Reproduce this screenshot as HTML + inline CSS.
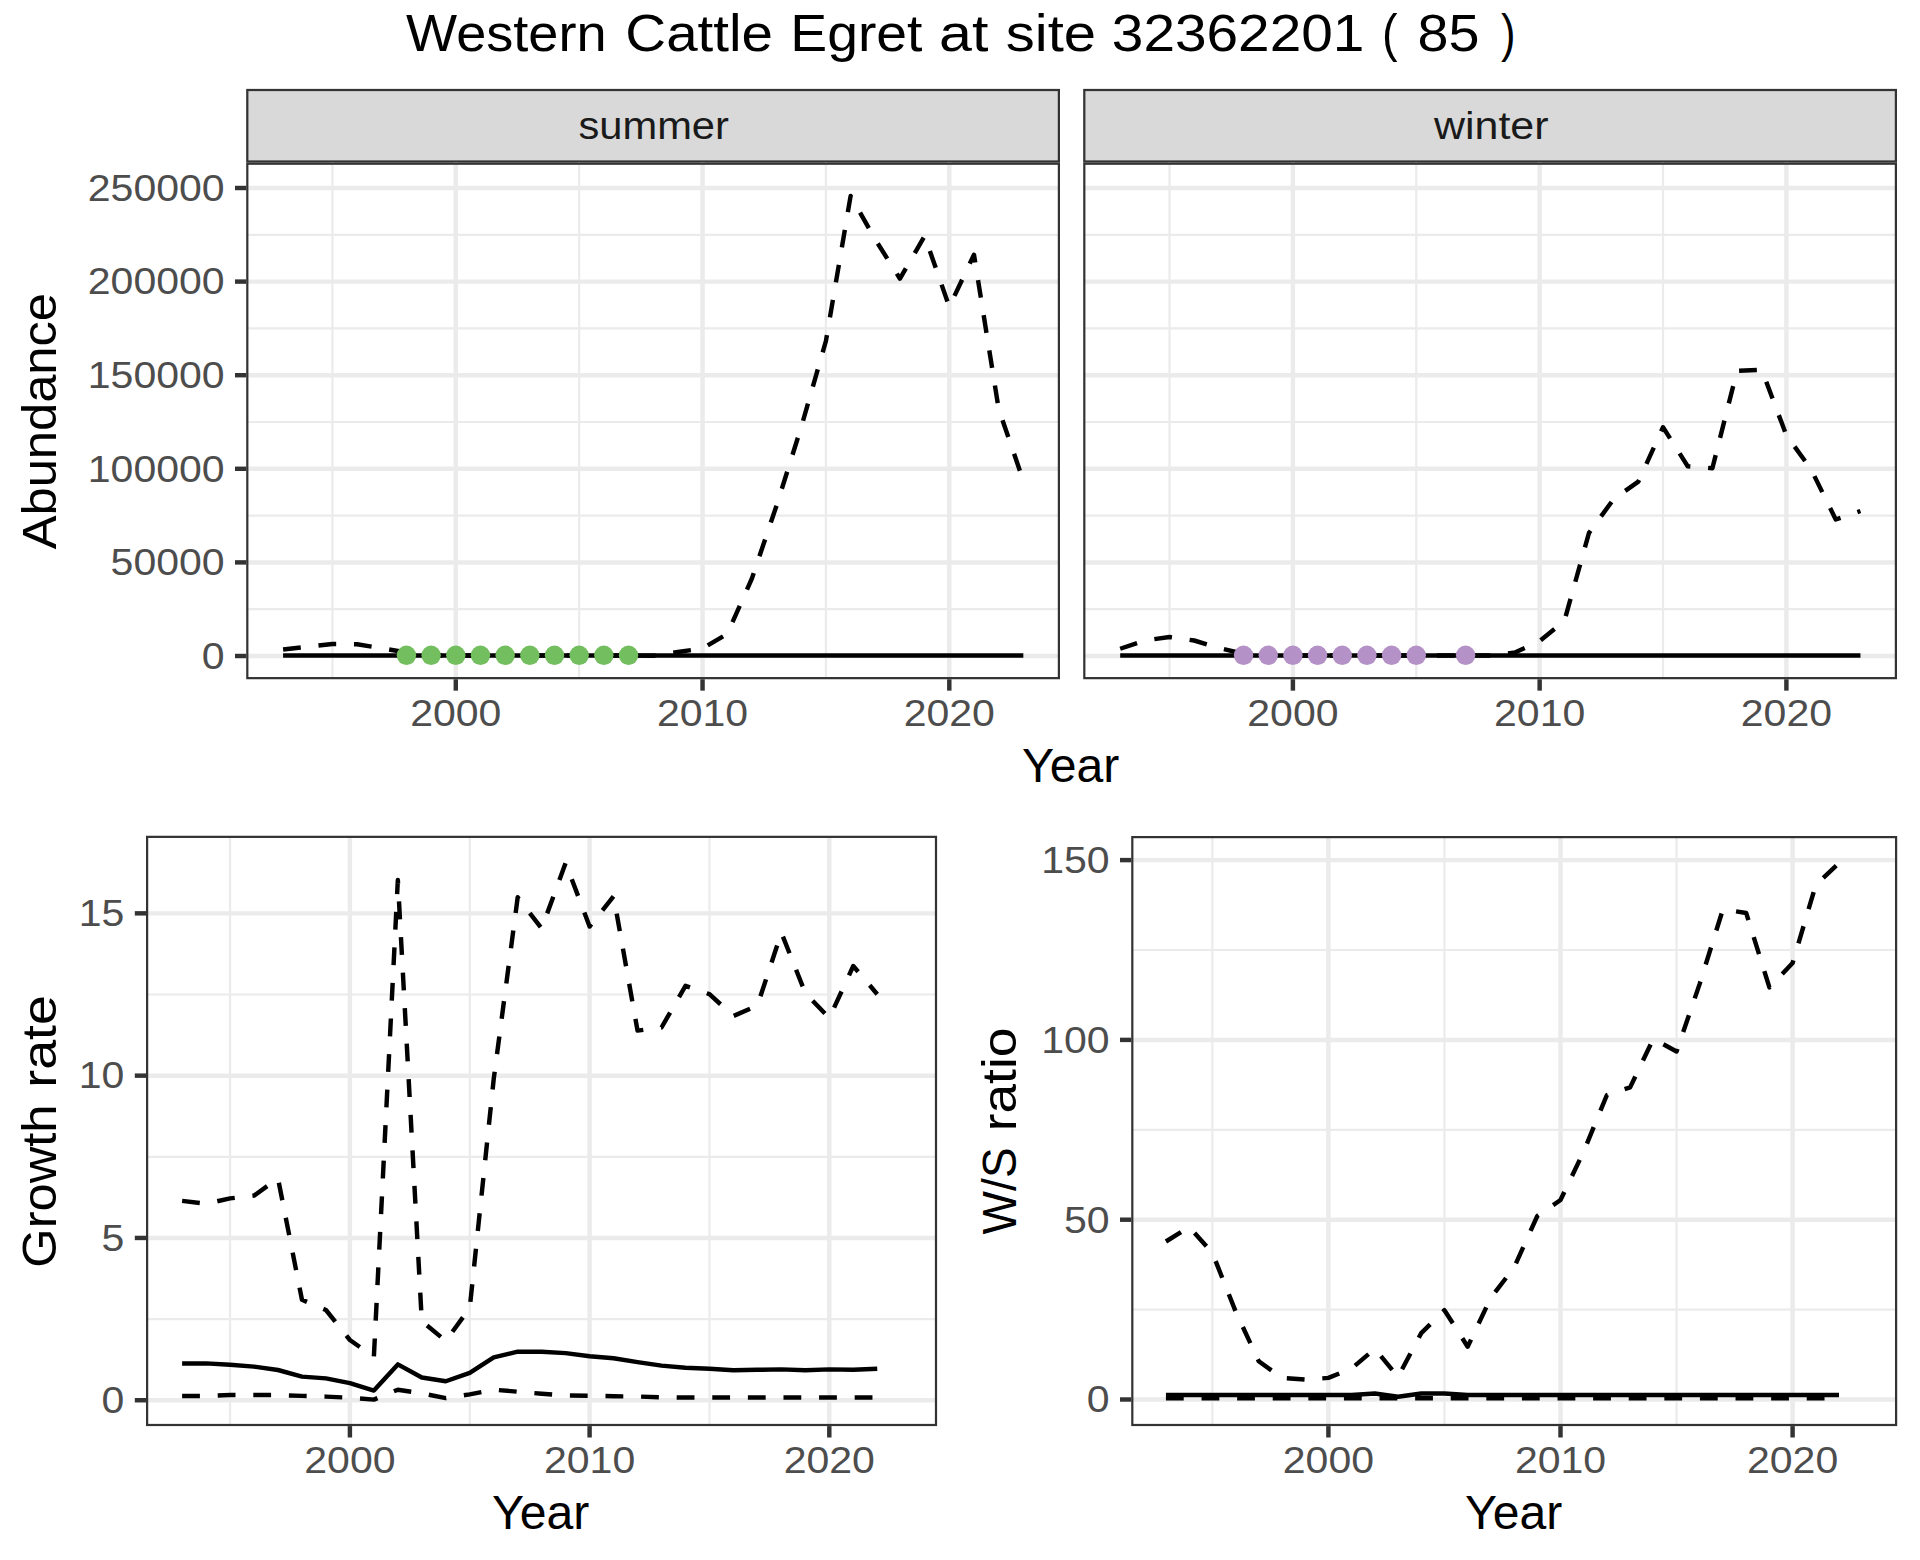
<!DOCTYPE html><html><head><meta charset="utf-8"><style>html,body{margin:0;padding:0;background:#fff;overflow:hidden}svg{display:block}</style></head><body>
<svg width="1920" height="1560" viewBox="0 0 1920 1560" font-family='"Liberation Sans", sans-serif'>
<rect width="1920" height="1560" fill="#fff"/>
<rect x="246.20" y="88.9" width="813.80" height="73.70" fill="#D9D9D9"/>
<rect x="247.31" y="90.01" width="811.58" height="71.48" fill="none" stroke="#333333" stroke-width="2.22"/>
<clipPath id="ctl"><rect x="246.20" y="162.60" width="813.80" height="516.65"/></clipPath>
<g clip-path="url(#ctl)">
<line x1="332.43" y1="162.60" x2="332.43" y2="679.25" stroke="#EBEBEB" stroke-width="2.22"/>
<line x1="579.17" y1="162.60" x2="579.17" y2="679.25" stroke="#EBEBEB" stroke-width="2.22"/>
<line x1="825.92" y1="162.60" x2="825.92" y2="679.25" stroke="#EBEBEB" stroke-width="2.22"/>
<line x1="246.20" y1="609.20" x2="1060.00" y2="609.20" stroke="#EBEBEB" stroke-width="2.22"/>
<line x1="246.20" y1="515.60" x2="1060.00" y2="515.60" stroke="#EBEBEB" stroke-width="2.22"/>
<line x1="246.20" y1="422.00" x2="1060.00" y2="422.00" stroke="#EBEBEB" stroke-width="2.22"/>
<line x1="246.20" y1="328.40" x2="1060.00" y2="328.40" stroke="#EBEBEB" stroke-width="2.22"/>
<line x1="246.20" y1="234.80" x2="1060.00" y2="234.80" stroke="#EBEBEB" stroke-width="2.22"/>
<line x1="455.80" y1="162.60" x2="455.80" y2="679.25" stroke="#EBEBEB" stroke-width="4.45"/>
<line x1="702.55" y1="162.60" x2="702.55" y2="679.25" stroke="#EBEBEB" stroke-width="4.45"/>
<line x1="949.30" y1="162.60" x2="949.30" y2="679.25" stroke="#EBEBEB" stroke-width="4.45"/>
<line x1="246.20" y1="656.00" x2="1060.00" y2="656.00" stroke="#EBEBEB" stroke-width="4.45"/>
<line x1="246.20" y1="562.40" x2="1060.00" y2="562.40" stroke="#EBEBEB" stroke-width="4.45"/>
<line x1="246.20" y1="468.80" x2="1060.00" y2="468.80" stroke="#EBEBEB" stroke-width="4.45"/>
<line x1="246.20" y1="375.20" x2="1060.00" y2="375.20" stroke="#EBEBEB" stroke-width="4.45"/>
<line x1="246.20" y1="281.60" x2="1060.00" y2="281.60" stroke="#EBEBEB" stroke-width="4.45"/>
<line x1="246.20" y1="188.00" x2="1060.00" y2="188.00" stroke="#EBEBEB" stroke-width="4.45"/>
<path d="M283.08 655.50 L307.75 655.50 L332.43 655.50 L357.10 655.50 L381.77 655.50 L406.45 655.50 L431.12 655.50 L455.80 655.50 L480.48 655.50 L505.15 655.50 L529.83 655.50 L554.50 655.50 L579.17 655.50 L603.85 655.50 L628.52 655.50 L653.20 655.50 L677.88 655.50 L702.55 655.50 L727.23 655.50 L751.90 655.50 L776.58 655.50 L801.25 655.50 L825.92 655.50 L850.60 655.50 L875.28 655.50 L899.95 655.50 L924.62 655.50 L949.30 655.50 L973.98 655.50 L998.65 655.50 L1023.33 655.50" fill="none" stroke="#000" stroke-width="4.45" stroke-linejoin="round"/>
<path d="M283.08 649.50 L307.75 646.75 L332.43 644.00 L357.10 644.25 L381.77 648.25 L406.45 652.50 L431.12 655.50 L455.80 655.50 L480.48 655.50 L505.15 655.50 L529.83 655.50 L554.50 655.50 L579.17 655.50 L603.85 655.50 L628.52 655.50 L653.20 655.80 L677.88 652.00 L702.55 648.50 L727.23 634.00 L751.90 578.50 L776.58 505.50 L801.25 427.00 L825.92 341.00 L850.60 196.00 L875.28 239.50 L899.95 278.70 L924.62 236.00 L949.30 306.80 L973.98 254.70 L998.65 408.90 L1023.33 480.75" fill="none" stroke="#000" stroke-width="4.45" stroke-dasharray="17.8 17.8" stroke-linejoin="round"/>
<circle cx="406.45" cy="655.3" r="9.7" fill="#73BE5E"/>
<circle cx="431.12" cy="655.3" r="9.7" fill="#73BE5E"/>
<circle cx="455.80" cy="655.3" r="9.7" fill="#73BE5E"/>
<circle cx="480.48" cy="655.3" r="9.7" fill="#73BE5E"/>
<circle cx="505.15" cy="655.3" r="9.7" fill="#73BE5E"/>
<circle cx="529.83" cy="655.3" r="9.7" fill="#73BE5E"/>
<circle cx="554.50" cy="655.3" r="9.7" fill="#73BE5E"/>
<circle cx="579.17" cy="655.3" r="9.7" fill="#73BE5E"/>
<circle cx="603.85" cy="655.3" r="9.7" fill="#73BE5E"/>
<circle cx="628.52" cy="655.3" r="9.7" fill="#73BE5E"/>
</g>
<rect x="247.31" y="163.71" width="811.58" height="514.43" fill="none" stroke="#333333" stroke-width="2.22"/>
<line x1="455.80" y1="679.25" x2="455.80" y2="690.65" stroke="#333333" stroke-width="4.45"/>
<line x1="702.55" y1="679.25" x2="702.55" y2="690.65" stroke="#333333" stroke-width="4.45"/>
<line x1="949.30" y1="679.25" x2="949.30" y2="690.65" stroke="#333333" stroke-width="4.45"/>
<rect x="1083.20" y="88.9" width="813.80" height="73.70" fill="#D9D9D9"/>
<rect x="1084.31" y="90.01" width="811.58" height="71.48" fill="none" stroke="#333333" stroke-width="2.22"/>
<clipPath id="ctr"><rect x="1083.20" y="162.60" width="813.80" height="516.65"/></clipPath>
<g clip-path="url(#ctr)">
<line x1="1169.53" y1="162.60" x2="1169.53" y2="679.25" stroke="#EBEBEB" stroke-width="2.22"/>
<line x1="1416.28" y1="162.60" x2="1416.28" y2="679.25" stroke="#EBEBEB" stroke-width="2.22"/>
<line x1="1663.03" y1="162.60" x2="1663.03" y2="679.25" stroke="#EBEBEB" stroke-width="2.22"/>
<line x1="1083.20" y1="609.20" x2="1897.00" y2="609.20" stroke="#EBEBEB" stroke-width="2.22"/>
<line x1="1083.20" y1="515.60" x2="1897.00" y2="515.60" stroke="#EBEBEB" stroke-width="2.22"/>
<line x1="1083.20" y1="422.00" x2="1897.00" y2="422.00" stroke="#EBEBEB" stroke-width="2.22"/>
<line x1="1083.20" y1="328.40" x2="1897.00" y2="328.40" stroke="#EBEBEB" stroke-width="2.22"/>
<line x1="1083.20" y1="234.80" x2="1897.00" y2="234.80" stroke="#EBEBEB" stroke-width="2.22"/>
<line x1="1292.90" y1="162.60" x2="1292.90" y2="679.25" stroke="#EBEBEB" stroke-width="4.45"/>
<line x1="1539.65" y1="162.60" x2="1539.65" y2="679.25" stroke="#EBEBEB" stroke-width="4.45"/>
<line x1="1786.40" y1="162.60" x2="1786.40" y2="679.25" stroke="#EBEBEB" stroke-width="4.45"/>
<line x1="1083.20" y1="656.00" x2="1897.00" y2="656.00" stroke="#EBEBEB" stroke-width="4.45"/>
<line x1="1083.20" y1="562.40" x2="1897.00" y2="562.40" stroke="#EBEBEB" stroke-width="4.45"/>
<line x1="1083.20" y1="468.80" x2="1897.00" y2="468.80" stroke="#EBEBEB" stroke-width="4.45"/>
<line x1="1083.20" y1="375.20" x2="1897.00" y2="375.20" stroke="#EBEBEB" stroke-width="4.45"/>
<line x1="1083.20" y1="281.60" x2="1897.00" y2="281.60" stroke="#EBEBEB" stroke-width="4.45"/>
<line x1="1083.20" y1="188.00" x2="1897.00" y2="188.00" stroke="#EBEBEB" stroke-width="4.45"/>
<path d="M1120.18 655.50 L1144.85 655.50 L1169.53 655.50 L1194.20 655.50 L1218.88 655.50 L1243.55 655.50 L1268.23 655.50 L1292.90 655.50 L1317.58 655.50 L1342.25 655.50 L1366.93 655.50 L1391.60 655.50 L1416.28 655.50 L1440.95 655.50 L1465.62 655.50 L1490.30 655.50 L1514.98 655.50 L1539.65 655.50 L1564.33 655.50 L1589.00 655.50 L1613.68 655.50 L1638.35 655.50 L1663.03 655.50 L1687.70 655.50 L1712.38 655.50 L1737.05 655.50 L1761.73 655.50 L1786.40 655.50 L1811.08 655.50 L1835.75 655.50 L1860.43 655.50" fill="none" stroke="#000" stroke-width="4.45" stroke-linejoin="round"/>
<path d="M1120.18 648.75 L1144.85 640.50 L1169.53 637.00 L1194.20 640.50 L1218.88 648.00 L1243.55 653.75 L1268.23 655.50 L1292.90 655.50 L1317.58 655.50 L1342.25 655.50 L1366.93 655.50 L1391.60 655.50 L1416.28 655.50 L1440.95 655.50 L1465.62 655.50 L1490.30 655.50 L1514.98 652.50 L1539.65 641.00 L1564.33 621.00 L1589.00 532.90 L1613.68 499.00 L1638.35 481.60 L1663.03 427.20 L1687.70 466.20 L1712.38 468.20 L1737.05 370.80 L1761.73 369.70 L1786.40 435.40 L1811.08 469.30 L1835.75 519.50 L1860.43 511.00" fill="none" stroke="#000" stroke-width="4.45" stroke-dasharray="17.8 17.8" stroke-linejoin="round"/>
<circle cx="1243.55" cy="655.3" r="9.7" fill="#B491C6"/>
<circle cx="1268.23" cy="655.3" r="9.7" fill="#B491C6"/>
<circle cx="1292.90" cy="655.3" r="9.7" fill="#B491C6"/>
<circle cx="1317.58" cy="655.3" r="9.7" fill="#B491C6"/>
<circle cx="1342.25" cy="655.3" r="9.7" fill="#B491C6"/>
<circle cx="1366.93" cy="655.3" r="9.7" fill="#B491C6"/>
<circle cx="1391.60" cy="655.3" r="9.7" fill="#B491C6"/>
<circle cx="1416.28" cy="655.3" r="9.7" fill="#B491C6"/>
<circle cx="1465.62" cy="655.3" r="9.7" fill="#B491C6"/>
</g>
<rect x="1084.31" y="163.71" width="811.58" height="514.43" fill="none" stroke="#333333" stroke-width="2.22"/>
<line x1="1292.90" y1="679.25" x2="1292.90" y2="690.65" stroke="#333333" stroke-width="4.45"/>
<line x1="1539.65" y1="679.25" x2="1539.65" y2="690.65" stroke="#333333" stroke-width="4.45"/>
<line x1="1786.40" y1="679.25" x2="1786.40" y2="690.65" stroke="#333333" stroke-width="4.45"/>
<line x1="235.00" y1="656.00" x2="246.20" y2="656.00" stroke="#333333" stroke-width="4.45"/>
<line x1="235.00" y1="562.40" x2="246.20" y2="562.40" stroke="#333333" stroke-width="4.45"/>
<line x1="235.00" y1="468.80" x2="246.20" y2="468.80" stroke="#333333" stroke-width="4.45"/>
<line x1="235.00" y1="375.20" x2="246.20" y2="375.20" stroke="#333333" stroke-width="4.45"/>
<line x1="235.00" y1="281.60" x2="246.20" y2="281.60" stroke="#333333" stroke-width="4.45"/>
<line x1="235.00" y1="188.00" x2="246.20" y2="188.00" stroke="#333333" stroke-width="4.45"/>
<clipPath id="cbl"><rect x="146.00" y="835.75" width="791.10" height="590.35"/></clipPath>
<g clip-path="url(#cbl)">
<line x1="230.05" y1="835.75" x2="230.05" y2="1426.10" stroke="#EBEBEB" stroke-width="2.22"/>
<line x1="469.75" y1="835.75" x2="469.75" y2="1426.10" stroke="#EBEBEB" stroke-width="2.22"/>
<line x1="709.45" y1="835.75" x2="709.45" y2="1426.10" stroke="#EBEBEB" stroke-width="2.22"/>
<line x1="146.00" y1="1319.10" x2="937.10" y2="1319.10" stroke="#EBEBEB" stroke-width="2.22"/>
<line x1="146.00" y1="1156.80" x2="937.10" y2="1156.80" stroke="#EBEBEB" stroke-width="2.22"/>
<line x1="146.00" y1="994.50" x2="937.10" y2="994.50" stroke="#EBEBEB" stroke-width="2.22"/>
<line x1="349.90" y1="835.75" x2="349.90" y2="1426.10" stroke="#EBEBEB" stroke-width="4.45"/>
<line x1="589.60" y1="835.75" x2="589.60" y2="1426.10" stroke="#EBEBEB" stroke-width="4.45"/>
<line x1="829.30" y1="835.75" x2="829.30" y2="1426.10" stroke="#EBEBEB" stroke-width="4.45"/>
<line x1="146.00" y1="1400.25" x2="937.10" y2="1400.25" stroke="#EBEBEB" stroke-width="4.45"/>
<line x1="146.00" y1="1237.95" x2="937.10" y2="1237.95" stroke="#EBEBEB" stroke-width="4.45"/>
<line x1="146.00" y1="1075.65" x2="937.10" y2="1075.65" stroke="#EBEBEB" stroke-width="4.45"/>
<line x1="146.00" y1="913.35" x2="937.10" y2="913.35" stroke="#EBEBEB" stroke-width="4.45"/>
<path d="M182.11 1363.40 L206.08 1363.40 L230.05 1364.75 L254.02 1366.60 L277.99 1370.00 L301.96 1376.60 L325.93 1378.40 L349.90 1383.10 L373.87 1390.60 L397.84 1364.40 L421.81 1377.50 L445.78 1381.25 L469.75 1372.80 L493.72 1357.30 L517.69 1351.70 L541.66 1351.70 L565.63 1353.10 L589.60 1356.25 L613.57 1358.30 L637.54 1362.10 L661.51 1365.60 L685.48 1367.70 L709.45 1368.75 L733.42 1370.20 L757.39 1369.80 L781.36 1369.40 L805.33 1370.20 L829.30 1369.40 L853.27 1369.80 L877.24 1368.75" fill="none" stroke="#000" stroke-width="4.45" stroke-linejoin="round"/>
<path d="M182.11 1200.90 L206.08 1203.70 L230.05 1198.40 L254.02 1195.60 L277.99 1178.40 L301.96 1299.70 L325.93 1310.00 L349.90 1340.00 L373.87 1356.90 L397.84 880.00 L421.81 1321.25 L445.78 1341.00 L469.75 1308.00 L493.72 1079.00 L517.69 897.30 L541.66 928.50 L565.63 862.90 L589.60 926.50 L613.57 896.25 L637.54 1030.60 L661.51 1027.50 L685.48 985.80 L709.45 994.20 L733.42 1016.00 L757.39 1005.60 L781.36 932.70 L805.33 993.00 L829.30 1018.10 L853.27 966.00 L877.24 994.20" fill="none" stroke="#000" stroke-width="4.45" stroke-dasharray="17.8 17.8" stroke-linejoin="round"/>
<path d="M182.11 1395.90 L206.08 1395.90 L230.05 1395.00 L254.02 1395.00 L277.99 1395.00 L301.96 1395.90 L325.93 1396.60 L349.90 1397.75 L373.87 1399.60 L397.84 1389.70 L421.81 1393.40 L445.78 1398.10 L469.75 1394.40 L493.72 1389.70 L517.69 1391.70 L541.66 1393.75 L565.63 1395.40 L589.60 1395.80 L613.57 1396.25 L637.54 1396.50 L661.51 1397.30 L685.48 1397.50 L709.45 1397.50 L733.42 1397.50 L757.39 1397.50 L781.36 1397.50 L805.33 1397.50 L829.30 1397.50 L853.27 1397.50 L877.24 1397.50" fill="none" stroke="#000" stroke-width="4.45" stroke-dasharray="17.8 17.8" stroke-linejoin="round"/>
</g>
<rect x="147.11" y="836.86" width="788.88" height="588.13" fill="none" stroke="#333333" stroke-width="2.22"/>
<line x1="134.80" y1="1400.25" x2="146.00" y2="1400.25" stroke="#333333" stroke-width="4.45"/>
<line x1="134.80" y1="1237.95" x2="146.00" y2="1237.95" stroke="#333333" stroke-width="4.45"/>
<line x1="134.80" y1="1075.65" x2="146.00" y2="1075.65" stroke="#333333" stroke-width="4.45"/>
<line x1="134.80" y1="913.35" x2="146.00" y2="913.35" stroke="#333333" stroke-width="4.45"/>
<line x1="349.90" y1="1426.10" x2="349.90" y2="1437.50" stroke="#333333" stroke-width="4.45"/>
<line x1="589.60" y1="1426.10" x2="589.60" y2="1437.50" stroke="#333333" stroke-width="4.45"/>
<line x1="829.30" y1="1426.10" x2="829.30" y2="1437.50" stroke="#333333" stroke-width="4.45"/>
<clipPath id="cbr"><rect x="1131.20" y="836.00" width="766.00" height="590.10"/></clipPath>
<g clip-path="url(#cbr)">
<line x1="1212.35" y1="836.00" x2="1212.35" y2="1426.10" stroke="#EBEBEB" stroke-width="2.22"/>
<line x1="1444.45" y1="836.00" x2="1444.45" y2="1426.10" stroke="#EBEBEB" stroke-width="2.22"/>
<line x1="1676.55" y1="836.00" x2="1676.55" y2="1426.10" stroke="#EBEBEB" stroke-width="2.22"/>
<line x1="1131.20" y1="1309.60" x2="1897.20" y2="1309.60" stroke="#EBEBEB" stroke-width="2.22"/>
<line x1="1131.20" y1="1129.80" x2="1897.20" y2="1129.80" stroke="#EBEBEB" stroke-width="2.22"/>
<line x1="1131.20" y1="950.00" x2="1897.20" y2="950.00" stroke="#EBEBEB" stroke-width="2.22"/>
<line x1="1328.40" y1="836.00" x2="1328.40" y2="1426.10" stroke="#EBEBEB" stroke-width="4.45"/>
<line x1="1560.50" y1="836.00" x2="1560.50" y2="1426.10" stroke="#EBEBEB" stroke-width="4.45"/>
<line x1="1792.60" y1="836.00" x2="1792.60" y2="1426.10" stroke="#EBEBEB" stroke-width="4.45"/>
<line x1="1131.20" y1="1399.50" x2="1897.20" y2="1399.50" stroke="#EBEBEB" stroke-width="4.45"/>
<line x1="1131.20" y1="1219.70" x2="1897.20" y2="1219.70" stroke="#EBEBEB" stroke-width="4.45"/>
<line x1="1131.20" y1="1039.90" x2="1897.20" y2="1039.90" stroke="#EBEBEB" stroke-width="4.45"/>
<line x1="1131.20" y1="860.10" x2="1897.20" y2="860.10" stroke="#EBEBEB" stroke-width="4.45"/>
<path d="M1165.93 1395.00 L1189.14 1395.00 L1212.35 1395.00 L1235.56 1395.00 L1258.77 1395.00 L1281.98 1395.00 L1305.19 1395.00 L1328.40 1395.00 L1351.61 1395.00 L1374.82 1393.50 L1398.03 1396.70 L1421.24 1393.50 L1444.45 1393.50 L1467.66 1395.00 L1490.87 1395.00 L1514.08 1395.00 L1537.29 1395.00 L1560.50 1395.00 L1583.71 1395.00 L1606.92 1395.00 L1630.13 1395.00 L1653.34 1395.00 L1676.55 1395.00 L1699.76 1395.00 L1722.97 1395.00 L1746.18 1395.00 L1769.39 1395.00 L1792.60 1395.00 L1815.81 1395.00 L1839.02 1395.00" fill="none" stroke="#000" stroke-width="4.45" stroke-linejoin="round"/>
<path d="M1165.93 1241.50 L1189.14 1226.90 L1212.35 1252.90 L1235.56 1311.25 L1258.77 1361.25 L1281.98 1377.90 L1305.19 1379.60 L1328.40 1377.90 L1351.61 1368.50 L1374.82 1348.75 L1398.03 1376.90 L1421.24 1333.10 L1444.45 1310.20 L1467.66 1346.70 L1490.87 1297.70 L1514.08 1267.50 L1537.29 1216.00 L1560.50 1200.00 L1583.71 1151.50 L1606.92 1095.00 L1630.13 1087.40 L1653.34 1038.70 L1676.55 1051.50 L1699.76 983.60 L1722.97 909.20 L1746.18 913.00 L1769.39 987.40 L1792.60 963.00 L1815.81 884.90 L1839.02 863.10" fill="none" stroke="#000" stroke-width="4.45" stroke-dasharray="17.8 17.8" stroke-linejoin="round"/>
<path d="M1165.93 1398.30 L1189.14 1398.30 L1212.35 1398.30 L1235.56 1398.30 L1258.77 1398.30 L1281.98 1398.30 L1305.19 1398.30 L1328.40 1398.30 L1351.61 1398.30 L1374.82 1398.30 L1398.03 1398.30 L1421.24 1398.30 L1444.45 1398.30 L1467.66 1398.30 L1490.87 1398.30 L1514.08 1398.30 L1537.29 1398.30 L1560.50 1398.30 L1583.71 1398.30 L1606.92 1398.30 L1630.13 1398.30 L1653.34 1398.30 L1676.55 1398.30 L1699.76 1398.30 L1722.97 1398.30 L1746.18 1398.30 L1769.39 1398.30 L1792.60 1398.30 L1815.81 1398.30 L1839.02 1398.30" fill="none" stroke="#000" stroke-width="4.45" stroke-dasharray="17.8 17.8" stroke-linejoin="round"/>
</g>
<rect x="1132.31" y="837.11" width="763.78" height="587.88" fill="none" stroke="#333333" stroke-width="2.22"/>
<line x1="1120.00" y1="1399.50" x2="1131.20" y2="1399.50" stroke="#333333" stroke-width="4.45"/>
<line x1="1120.00" y1="1219.70" x2="1131.20" y2="1219.70" stroke="#333333" stroke-width="4.45"/>
<line x1="1120.00" y1="1039.90" x2="1131.20" y2="1039.90" stroke="#333333" stroke-width="4.45"/>
<line x1="1120.00" y1="860.10" x2="1131.20" y2="860.10" stroke="#333333" stroke-width="4.45"/>
<line x1="1328.40" y1="1426.10" x2="1328.40" y2="1437.50" stroke="#333333" stroke-width="4.45"/>
<line x1="1560.50" y1="1426.10" x2="1560.50" y2="1437.50" stroke="#333333" stroke-width="4.45"/>
<line x1="1792.60" y1="1426.10" x2="1792.60" y2="1437.50" stroke="#333333" stroke-width="4.45"/>
<text x="406.00" y="51.00" font-size="52.30" fill="#000" text-anchor="start" textLength="200.61" lengthAdjust="spacingAndGlyphs">Western</text>
<text x="625.34" y="51.00" font-size="52.30" fill="#000" text-anchor="start" textLength="147.67" lengthAdjust="spacingAndGlyphs">Cattle</text>
<text x="790.27" y="51.00" font-size="52.30" fill="#000" text-anchor="start" textLength="132.23" lengthAdjust="spacingAndGlyphs">Egret</text>
<text x="938.99" y="51.00" font-size="52.30" fill="#000" text-anchor="start" textLength="49.34" lengthAdjust="spacingAndGlyphs">at</text>
<text x="1005.89" y="51.00" font-size="52.30" fill="#000" text-anchor="start" textLength="90.26" lengthAdjust="spacingAndGlyphs">site</text>
<text x="1111.83" y="51.00" font-size="52.30" fill="#000" text-anchor="start" textLength="252.59" lengthAdjust="spacingAndGlyphs">32362201</text>
<text x="1382.07" y="51.00" font-size="52.30" fill="#000" text-anchor="start" textLength="15.56" lengthAdjust="spacingAndGlyphs">(</text>
<text x="1417.62" y="51.00" font-size="52.30" fill="#000" text-anchor="start" textLength="61.94" lengthAdjust="spacingAndGlyphs">85</text>
<text x="1501.00" y="51.00" font-size="52.30" fill="#000" text-anchor="start" textLength="14.52" lengthAdjust="spacingAndGlyphs">)</text>
<text x="578.43" y="138.90" font-size="38.80" fill="#1A1A1A" text-anchor="start" textLength="150.49" lengthAdjust="spacingAndGlyphs">summer</text>
<text x="1433.90" y="138.65" font-size="38.80" fill="#1A1A1A" text-anchor="start" textLength="114.65" lengthAdjust="spacingAndGlyphs">winter</text>
<text x="224.60" y="668.80" font-size="37.00" fill="#4D4D4D" text-anchor="end" textLength="22.80" lengthAdjust="spacingAndGlyphs">0</text>
<text x="224.60" y="575.20" font-size="37.00" fill="#4D4D4D" text-anchor="end" textLength="114.00" lengthAdjust="spacingAndGlyphs">50000</text>
<text x="224.60" y="481.60" font-size="37.00" fill="#4D4D4D" text-anchor="end" textLength="136.80" lengthAdjust="spacingAndGlyphs">100000</text>
<text x="224.60" y="388.00" font-size="37.00" fill="#4D4D4D" text-anchor="end" textLength="136.80" lengthAdjust="spacingAndGlyphs">150000</text>
<text x="224.60" y="294.40" font-size="37.00" fill="#4D4D4D" text-anchor="end" textLength="136.80" lengthAdjust="spacingAndGlyphs">200000</text>
<text x="224.60" y="200.80" font-size="37.00" fill="#4D4D4D" text-anchor="end" textLength="136.80" lengthAdjust="spacingAndGlyphs">250000</text>
<text x="455.80" y="725.60" font-size="37.00" fill="#4D4D4D" text-anchor="middle" textLength="91.20" lengthAdjust="spacingAndGlyphs">2000</text>
<text x="702.55" y="725.60" font-size="37.00" fill="#4D4D4D" text-anchor="middle" textLength="91.20" lengthAdjust="spacingAndGlyphs">2010</text>
<text x="949.30" y="725.60" font-size="37.00" fill="#4D4D4D" text-anchor="middle" textLength="91.20" lengthAdjust="spacingAndGlyphs">2020</text>
<text x="1292.90" y="725.60" font-size="37.00" fill="#4D4D4D" text-anchor="middle" textLength="91.20" lengthAdjust="spacingAndGlyphs">2000</text>
<text x="1539.65" y="725.60" font-size="37.00" fill="#4D4D4D" text-anchor="middle" textLength="91.20" lengthAdjust="spacingAndGlyphs">2010</text>
<text x="1786.40" y="725.60" font-size="37.00" fill="#4D4D4D" text-anchor="middle" textLength="91.20" lengthAdjust="spacingAndGlyphs">2020</text>
<text x="1022.09" y="781.75" font-size="47.50" fill="#000" text-anchor="start" textLength="97.30" lengthAdjust="spacingAndGlyphs">Year</text>
<text transform="translate(56.30 549.30) rotate(-90)" x="0" y="0" font-size="47.50" fill="#000" text-anchor="start" textLength="256.35" lengthAdjust="spacingAndGlyphs">Abundance</text>
<text x="124.30" y="1413.05" font-size="37.00" fill="#4D4D4D" text-anchor="end" textLength="22.80" lengthAdjust="spacingAndGlyphs">0</text>
<text x="124.30" y="1250.75" font-size="37.00" fill="#4D4D4D" text-anchor="end" textLength="22.80" lengthAdjust="spacingAndGlyphs">5</text>
<text x="124.30" y="1088.45" font-size="37.00" fill="#4D4D4D" text-anchor="end" textLength="45.60" lengthAdjust="spacingAndGlyphs">10</text>
<text x="124.30" y="926.15" font-size="37.00" fill="#4D4D4D" text-anchor="end" textLength="45.60" lengthAdjust="spacingAndGlyphs">15</text>
<text x="349.90" y="1472.50" font-size="37.00" fill="#4D4D4D" text-anchor="middle" textLength="91.20" lengthAdjust="spacingAndGlyphs">2000</text>
<text x="589.60" y="1472.50" font-size="37.00" fill="#4D4D4D" text-anchor="middle" textLength="91.20" lengthAdjust="spacingAndGlyphs">2010</text>
<text x="829.30" y="1472.50" font-size="37.00" fill="#4D4D4D" text-anchor="middle" textLength="91.20" lengthAdjust="spacingAndGlyphs">2020</text>
<text x="492.09" y="1528.75" font-size="47.50" fill="#000" text-anchor="start" textLength="97.30" lengthAdjust="spacingAndGlyphs">Year</text>
<text transform="translate(56.30 1267.73) rotate(-90)" x="0" y="0" font-size="47.50" fill="#000" text-anchor="start" textLength="163.28" lengthAdjust="spacingAndGlyphs">Growth</text>
<text transform="translate(56.30 1087.69) rotate(-90)" x="0" y="0" font-size="47.50" fill="#000" text-anchor="start" textLength="92.60" lengthAdjust="spacingAndGlyphs">rate</text>
<text x="1109.60" y="1412.30" font-size="37.00" fill="#4D4D4D" text-anchor="end" textLength="22.80" lengthAdjust="spacingAndGlyphs">0</text>
<text x="1109.60" y="1232.50" font-size="37.00" fill="#4D4D4D" text-anchor="end" textLength="45.60" lengthAdjust="spacingAndGlyphs">50</text>
<text x="1109.60" y="1052.70" font-size="37.00" fill="#4D4D4D" text-anchor="end" textLength="68.40" lengthAdjust="spacingAndGlyphs">100</text>
<text x="1109.60" y="872.90" font-size="37.00" fill="#4D4D4D" text-anchor="end" textLength="68.40" lengthAdjust="spacingAndGlyphs">150</text>
<text x="1328.40" y="1472.50" font-size="37.00" fill="#4D4D4D" text-anchor="middle" textLength="91.20" lengthAdjust="spacingAndGlyphs">2000</text>
<text x="1560.50" y="1472.50" font-size="37.00" fill="#4D4D4D" text-anchor="middle" textLength="91.20" lengthAdjust="spacingAndGlyphs">2010</text>
<text x="1792.60" y="1472.50" font-size="37.00" fill="#4D4D4D" text-anchor="middle" textLength="91.20" lengthAdjust="spacingAndGlyphs">2020</text>
<text x="1465.09" y="1528.75" font-size="47.50" fill="#000" text-anchor="start" textLength="97.10" lengthAdjust="spacingAndGlyphs">Year</text>
<text transform="translate(1015.90 1234.40) rotate(-90)" x="0" y="0" font-size="47.50" fill="#000" text-anchor="start" textLength="87.02" lengthAdjust="spacingAndGlyphs">W/S</text>
<text transform="translate(1015.90 1131.26) rotate(-90)" x="0" y="0" font-size="47.50" fill="#000" text-anchor="start" textLength="103.64" lengthAdjust="spacingAndGlyphs">ratio</text>
</svg></body></html>
